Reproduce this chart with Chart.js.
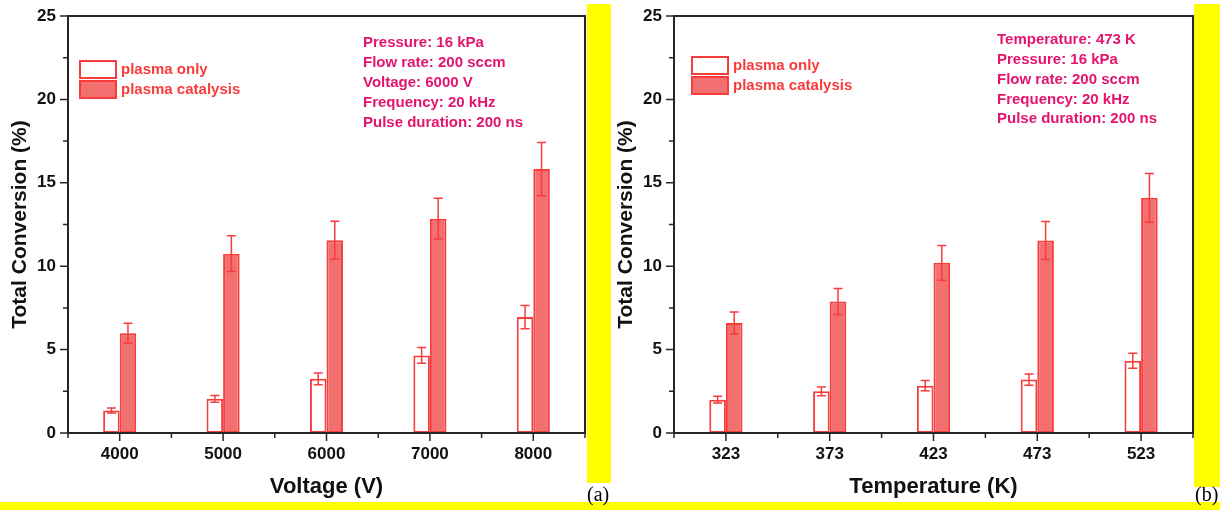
<!DOCTYPE html>
<html lang="en">
<head>
<meta charset="UTF-8">
<title>Total Conversion</title>
<script src="https://cdn.jsdelivr.net/npm/chart.js"></script>
<style>
  body { margin: 0; background: #fff; width: 1225px; height: 510px; position: relative; overflow: hidden; }
  canvas { position: absolute; top: 0; }
  .band { position: absolute; background: #ffff00; z-index: 2; }
  .tag { position: absolute; font-family: 'Liberation Serif', 'Times New Roman', serif; font-size: 20px; line-height: 20px; color: #000; z-index: 3; }
</style>
</head>
<body>
<canvas id="voltChart" width="587" height="500" style="left:0"></canvas>
<canvas id="tempChart" width="589" height="500" style="left:606px"></canvas>

<!-- yellow frame pieces -->
<div class="band" style="left:587px;top:4px;width:24px;height:479px"></div>
<div class="band" style="left:1194px;top:4px;width:26px;height:483px"></div>
<div class="band" style="left:0;top:502px;width:1220px;height:8px"></div>
<div class="tag" style="left:587px;top:484px">(a)</div>
<div class="tag" style="left:1195px;top:484px">(b)</div>

<script>
// (a) conversion vs voltage
const voltageLabels = ['4000', '5000', '6000', '7000', '8000'];
const voltageOnly = [1.35, 2.05, 3.25, 4.65, 6.95];
const voltageOnlyErr = [0.15, 0.2, 0.35, 0.47, 0.7];
const voltageCat = [5.98, 10.75, 11.55, 12.85, 15.82];
const voltageCatErr = [0.6, 1.07, 1.14, 1.22, 1.6];

// (b) conversion vs temperature
const tempLabels = ['323', '373', '423', '473', '523'];
const tempOnly = [2.0, 2.5, 2.84, 3.2, 4.33];
const tempOnlyErr = [0.2, 0.26, 0.3, 0.33, 0.45];
const tempCat = [6.59, 7.89, 10.2, 11.54, 14.1];
const tempCatErr = [0.66, 0.78, 1.04, 1.14, 1.46];

const yTickValues = [0, 5, 10, 15, 20, 25];
const seriesNames = ['plasma only', 'plasma catalysis'];
const voltageNotes = ['Pressure: 16 kPa', 'Flow rate: 200 sccm', 'Voltage: 6000 V', 'Frequency: 20 kHz', 'Pulse duration: 200 ns'];
const tempNotes = ['Temperature: 473 K', 'Pressure: 16 kPa', 'Flow rate: 200 sccm', 'Frequency: 20 kHz', 'Pulse duration: 200 ns'];

const RED = 'rgb(248, 60, 60)';
const FILL = 'rgb(242, 112, 112)';
const NOTE = 'rgb(228, 20, 110)';
const AXIS = '#262626';
const FONT = "'Liberation Sans', Arial, sans-serif";

// error bars drawn from each dataset's "errors" array
const errorBars = {
    id: 'errorBars',
    afterDatasetsDraw(chart) {
        const ctx = chart.ctx, y = chart.scales.y;
        ctx.save();
        ctx.strokeStyle = RED;
        ctx.lineWidth = 1.5;
        chart.data.datasets.forEach((ds, i) => {
            chart.getDatasetMeta(i).data.forEach((bar, j) => {
                const hi = y.getPixelForValue(ds.data[j] + ds.errors[j]);
                const lo = y.getPixelForValue(ds.data[j] - ds.errors[j]);
                ctx.beginPath();
                ctx.moveTo(bar.x, hi); ctx.lineTo(bar.x, lo);
                ctx.moveTo(bar.x - 4.5, hi); ctx.lineTo(bar.x + 4.5, hi);
                ctx.moveTo(bar.x - 4.5, lo); ctx.lineTo(bar.x + 4.5, lo);
                ctx.stroke();
            });
        });
        ctx.restore();
    }
};

// box around the plot + outward tick marks (major and minor)
const frame = {
    id: 'frame',
    afterDraw(chart) {
        const { ctx, chartArea: a, scales: { x, y } } = chart;
        ctx.save();
        ctx.strokeStyle = AXIS;
        ctx.lineWidth = 2;
        ctx.strokeRect(a.left, a.top, a.right - a.left, a.bottom - a.top);
        ctx.lineWidth = 1.5;
        ctx.beginPath();
        y.ticks.forEach((t, k) => {
            const py = y.getPixelForValue(t.value);
            ctx.moveTo(a.left - 8, py); ctx.lineTo(a.left, py);
            if (k > 0) {
                const my = y.getPixelForValue((t.value + y.ticks[k - 1].value) / 2);
                ctx.moveTo(a.left - 5, my); ctx.lineTo(a.left, my);
            }
        });
        x.ticks.forEach((t, k) => {
            const px = x.getPixelForValue(k);
            ctx.moveTo(px, a.bottom); ctx.lineTo(px, a.bottom + 8);
            const bx = x.getPixelForValue(k - 0.5);
            ctx.moveTo(bx, a.bottom); ctx.lineTo(bx, a.bottom + 5);
        });
        const ex = x.getPixelForValue(x.ticks.length - 0.5);
        ctx.moveTo(ex, a.bottom); ctx.lineTo(ex, a.bottom + 5);
        ctx.stroke();
        ctx.restore();
    }
};

// legend boxes and condition notes inside the plot
const panelText = {
    id: 'panelText',
    afterDraw(chart, args, opts) {
        const { ctx, chartArea: a } = chart;
        ctx.save();
        const lx = a.left + opts.legendAt[0], ly = a.top + opts.legendAt[1];
        ctx.font = 'bold 15px ' + FONT;
        ctx.textBaseline = 'middle';
        ctx.lineWidth = 2;
        chart.data.datasets.forEach((ds, i) => {
            const by = ly + i * 20;
            ctx.fillStyle = ds.backgroundColor;
            ctx.fillRect(lx, by, 36, 17);
            ctx.strokeStyle = RED;
            ctx.strokeRect(lx, by, 36, 17);
            ctx.fillStyle = RED;
            ctx.fillText(ds.label, lx + 41, by + 9);
        });
        ctx.fillStyle = NOTE;
        opts.notes.forEach((line, k) => {
            ctx.fillText(line, a.left + opts.notesAt[0], a.top + opts.notesAt[1] + k * opts.noteStep);
        });
        ctx.restore();
    }
};

function makeChart(id, labels, only, onlyErr, cat, catErr, xTitle, notes, legendAt, notesAt, noteStep) {
    return new Chart(document.getElementById(id), {
        type: 'bar',
        data: {
            labels: labels,
            datasets: [
                { label: seriesNames[0], data: only, errors: onlyErr, backgroundColor: '#ffffff',
                  borderColor: RED, borderWidth: 2, borderSkipped: false },
                { label: seriesNames[1], data: cat, errors: catErr, backgroundColor: FILL,
                  borderColor: RED, borderWidth: 2, borderSkipped: false }
            ]
        },
        options: {
            responsive: false,
            animation: false,
            layout: { padding: { top: 16, right: 2, bottom: 0, left: 0 } },
            datasets: { bar: { categoryPercentage: 0.32, barPercentage: 1.0 } },
            plugins: {
                legend: { display: false },
                tooltip: { enabled: false },
                panelText: { legendAt: legendAt, notesAt: notesAt, noteStep: noteStep, notes: notes }
            },
            scales: {
                x: {
                    grid: { display: false, drawTicks: false },
                    border: { display: false },
                    ticks: { color: '#111', padding: 11, font: { family: FONT, size: 17, weight: 'bold' } },
                    title: { display: true, text: xTitle, color: '#111', padding: { top: 0, bottom: 0 },
                             font: { family: FONT, size: 22, weight: 'bold' } },
                    afterFit: s => { s.height = 67; s.paddingLeft = 0; s.paddingRight = 0; }
                },
                y: {
                    min: 0,
                    max: 25,
                    afterBuildTicks: s => { s.ticks = yTickValues.map(v => ({ value: v })); },
                    grid: { display: false, drawTicks: false },
                    border: { display: false },
                    ticks: { color: '#111', padding: 12, font: { family: FONT, size: 17, weight: 'bold' } },
                    title: { display: true, text: 'Total Conversion (%)', color: '#111', padding: { top: 8, bottom: 0 },
                             font: { family: FONT, size: 21, weight: 'bold' } },
                    afterFit: s => { s.width = 68; s.paddingTop = 0; s.paddingBottom = 0; }
                }
            }
        },
        plugins: [errorBars, frame, panelText]
    });
}

makeChart('voltChart', voltageLabels, voltageOnly, voltageOnlyErr, voltageCat, voltageCatErr,
    'Voltage (V)', voltageNotes, [12, 45], [295, 27], 20);
makeChart('tempChart', tempLabels, tempOnly, tempOnlyErr, tempCat, tempCatErr,
    'Temperature (K)', tempNotes, [18, 41], [323, 24], 19.8);
</script>
</body>
</html>
